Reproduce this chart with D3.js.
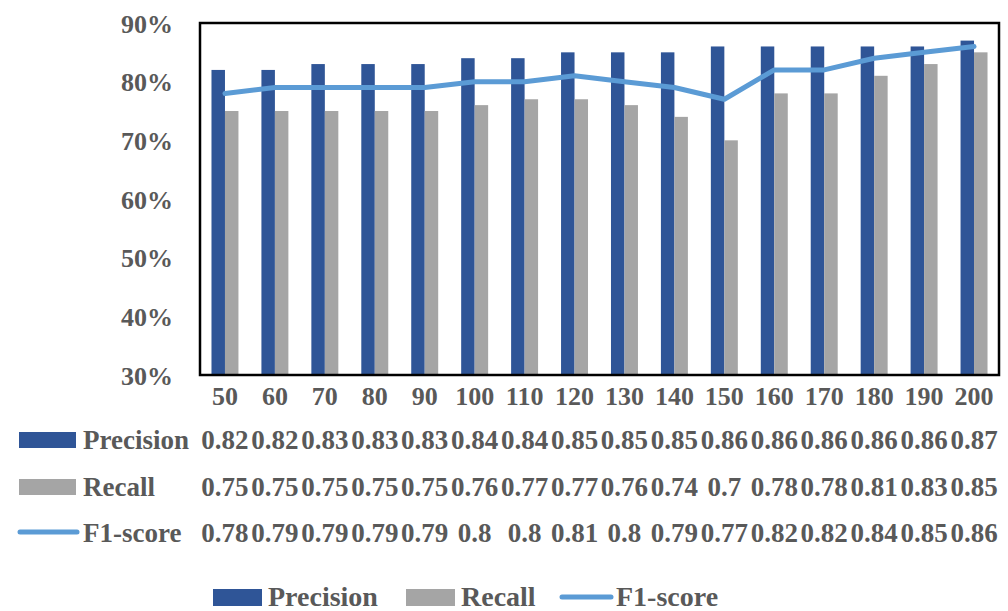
<!DOCTYPE html>
<html>
<head>
<meta charset="utf-8">
<script src="https://cdn.jsdelivr.net/npm/d3@7"></script>
<style>
  html, body { margin: 0; padding: 0; background: #fff; }
  svg { display: block; }
  text { font-family: "Liberation Serif", "Times New Roman", serif; font-weight: bold; fill: #595959; }
</style>
</head>
<body>
<svg id="chart" width="1008" height="611"></svg>
<script>
// Number of features on the x axis
const featureCounts = ["50","60","70","80","90","100","110","120","130","140","150","160","170","180","190","200"];
const precision = [0.82,0.82,0.83,0.83,0.83,0.84,0.84,0.85,0.85,0.85,0.86,0.86,0.86,0.86,0.86,0.87];
const recall    = [0.75,0.75,0.75,0.75,0.75,0.76,0.77,0.77,0.76,0.74,0.70,0.78,0.78,0.81,0.83,0.85];
const f1score   = [0.78,0.79,0.79,0.79,0.79,0.80,0.80,0.81,0.80,0.79,0.77,0.82,0.82,0.84,0.85,0.86];
const yTicks    = [0.3,0.4,0.5,0.6,0.7,0.8,0.9];
const seriesNames = ["Precision","Recall","F1-score"];

const colors = { precision: "#2F5597", recall: "#A5A5A5", f1: "#5B9BD5" };

const svg = d3.select("#chart");
const plot = { left: 200, right: 999, top: 23, bottom: 375 };

const x = d3.scaleBand().domain(featureCounts).range([plot.left, plot.right]).padding(0);
const y = d3.scaleLinear().domain([0.3, 0.9]).range([plot.bottom, plot.top]);
const barW = x.bandwidth() * 0.27;
const cx = d => x(d) + x.bandwidth() / 2;

// Bars
const g = svg.append("g");
g.selectAll("rect.p").data(precision).join("rect")
  .attr("class", "p")
  .attr("x", (d, i) => cx(featureCounts[i]) - barW)
  .attr("y", d => y(d))
  .attr("width", barW)
  .attr("height", d => y(0.3) - y(d))
  .attr("fill", colors.precision);
g.selectAll("rect.r").data(recall).join("rect")
  .attr("class", "r")
  .attr("x", (d, i) => cx(featureCounts[i]))
  .attr("y", d => y(d))
  .attr("width", barW)
  .attr("height", d => y(0.3) - y(d))
  .attr("fill", colors.recall);

// F1 line
const line = d3.line().x((d, i) => cx(featureCounts[i])).y(d => y(d));
g.append("path").datum(f1score)
  .attr("d", line)
  .attr("fill", "none")
  .attr("stroke", colors.f1)
  .attr("stroke-width", 5)
  .attr("stroke-linecap", "round")
  .attr("stroke-linejoin", "round");

// Plot frame
svg.append("rect")
  .attr("x", plot.left).attr("y", plot.top)
  .attr("width", plot.right - plot.left).attr("height", plot.bottom - plot.top)
  .attr("fill", "none").attr("stroke", "#000").attr("stroke-width", 2.5);

// Y axis labels
const yAxis = d3.axisLeft(y).tickValues(yTicks).tickFormat(d3.format(".0%")).tickSize(0).tickPadding(27);
const ya = svg.append("g").attr("transform", `translate(${plot.left},0)`).call(yAxis);
ya.select(".domain").remove();
ya.selectAll("text").attr("font-size", 26).attr("fill", "#595959")
  .attr("font-family", null).attr("dy", "0.35em");

// X axis labels
const xAxis = d3.axisBottom(x).tickSize(0).tickPadding(0);
const xa = svg.append("g").attr("transform", `translate(0,${plot.bottom})`).call(xAxis);
xa.select(".domain").remove();
xa.selectAll("text").attr("font-size", 26).attr("fill", "#595959")
  .attr("font-family", null).attr("y", 30).attr("dy", null);

// Data table under the axis
const rows = [
  { name: seriesNames[0], values: precision, key: "rect", color: colors.precision, base: 449 },
  { name: seriesNames[1], values: recall,    key: "rect", color: colors.recall,    base: 496 },
  { name: seriesNames[2], values: f1score,   key: "line", color: colors.f1,        base: 542 }
];
const table = svg.append("g");
rows.forEach(r => {
  if (r.key === "rect") {
    table.append("rect").attr("x", 19).attr("y", r.base - 17).attr("width", 57).attr("height", 16).attr("fill", r.color);
  } else {
    table.append("line").attr("x1", 20).attr("x2", 77).attr("y1", r.base - 10).attr("y2", r.base - 10)
      .attr("stroke", r.color).attr("stroke-width", 5).attr("stroke-linecap", "round");
  }
  table.append("text").attr("x", 83).attr("y", r.base).attr("font-size", 27).text(r.name);
  table.selectAll(null).data(r.values).join("text")
    .attr("x", (d, i) => cx(featureCounts[i]))
    .attr("y", r.base)
    .attr("text-anchor", "middle")
    .attr("font-size", 27)
    .text(d => String(+d.toFixed(2)));
});

// Legend
const legend = svg.append("g");
const legendItems = [
  { name: seriesNames[0], key: "rect", color: colors.precision, x: 213 },
  { name: seriesNames[1], key: "rect", color: colors.recall,    x: 406 },
  { name: seriesNames[2], key: "line", color: colors.f1,        x: 560 }
];
const legBase = 606;
legendItems.forEach(it => {
  if (it.key === "rect") {
    legend.append("rect").attr("x", it.x).attr("y", legBase - 17).attr("width", 49).attr("height", 17).attr("fill", it.color);
    legend.append("text").attr("x", it.x + 55).attr("y", legBase).attr("font-size", 28).text(it.name);
  } else {
    legend.append("line").attr("x1", it.x + 2).attr("x2", it.x + 51).attr("y1", legBase - 9).attr("y2", legBase - 9)
      .attr("stroke", it.color).attr("stroke-width", 5).attr("stroke-linecap", "round");
    legend.append("text").attr("x", it.x + 56).attr("y", legBase).attr("font-size", 28).text(it.name);
  }
});
</script>
</body>
</html>
